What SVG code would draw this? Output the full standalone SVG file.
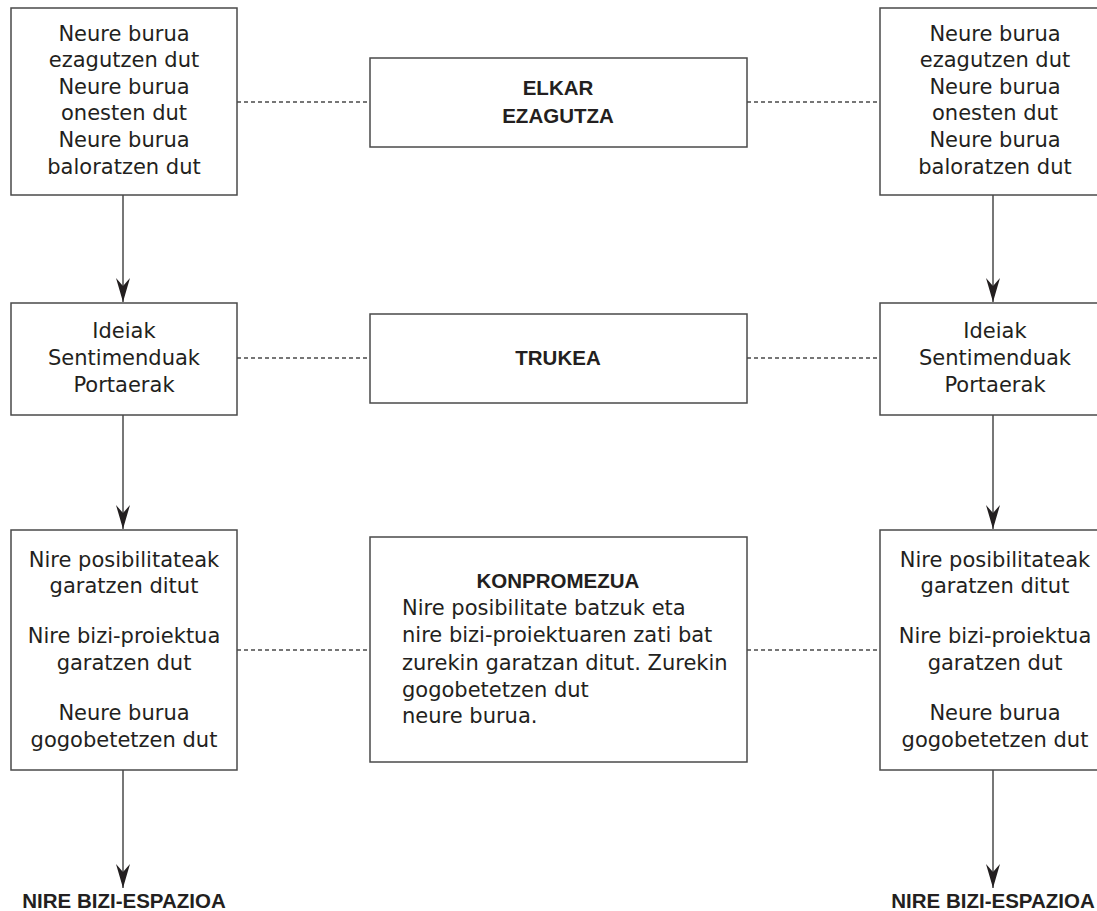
<svg xmlns="http://www.w3.org/2000/svg" width="1097" height="911" viewBox="0 0 1097 911">
<style>
.box{fill:#fff;stroke:#4a4a4a;stroke-width:1.5}
.t{font-family:"DejaVu Sans","Liberation Sans",sans-serif;font-size:21px;fill:#231f20;text-anchor:middle}
.b{font-family:"Liberation Sans","DejaVu Sans",sans-serif;font-size:20.5px;font-weight:bold;fill:#231f20;text-anchor:middle}
.l{text-anchor:start}
.dash{stroke:#4a4a4a;stroke-width:1.3;stroke-dasharray:4 3;fill:none}
.arr{stroke:#4a4a4a;stroke-width:1.5;fill:none;marker-end:url(#ah)}
</style>
<defs>
<marker id="ah" markerUnits="userSpaceOnUse" markerWidth="26" markerHeight="16" viewBox="-25 -8 26 16" refX="0" refY="0" orient="auto">
<path d="M0,0 L-24,-7 L-16,0 L-24,7 Z" fill="#231f20"/>
</marker>
</defs>
<g id="connectors">
<line class="dash" x1="237" y1="102" x2="370" y2="102"/>
<line class="dash" x1="747" y1="102" x2="880" y2="102"/>
<line class="dash" x1="237" y1="358" x2="370" y2="358"/>
<line class="dash" x1="747" y1="358" x2="880" y2="358"/>
<line class="dash" x1="237" y1="650" x2="370" y2="650"/>
<line class="dash" x1="747" y1="650" x2="880" y2="650"/>
<line class="arr" x1="123" y1="195" x2="123" y2="302"/>
<line class="arr" x1="123" y1="415" x2="123" y2="529"/>
<line class="arr" x1="123" y1="770" x2="123" y2="888"/>
<line class="arr" x1="993" y1="195" x2="993" y2="302"/>
<line class="arr" x1="993" y1="415" x2="993" y2="529"/>
<line class="arr" x1="993" y1="770" x2="993" y2="888"/>
</g>
<g id="left1">
<rect class="box" x="11" y="8" width="226" height="187"/>
<text class="t" x="124" y="41">Neure burua</text>
<text class="t" x="124" y="67">ezagutzen dut</text>
<text class="t" x="124" y="94">Neure burua</text>
<text class="t" x="124" y="120">onesten dut</text>
<text class="t" x="124" y="147">Neure burua</text>
<text class="t" x="124" y="174">baloratzen dut</text>
</g>
<g id="center1">
<rect class="box" x="370" y="58" width="377" height="89"/>
<text class="b" x="558" y="95">ELKAR</text>
<text class="b" x="558" y="123">EZAGUTZA</text>
</g>
<g id="right1">
<rect class="box" x="880" y="8" width="230" height="187"/>
<text class="t" x="995" y="41">Neure burua</text>
<text class="t" x="995" y="67">ezagutzen dut</text>
<text class="t" x="995" y="94">Neure burua</text>
<text class="t" x="995" y="120">onesten dut</text>
<text class="t" x="995" y="147">Neure burua</text>
<text class="t" x="995" y="174">baloratzen dut</text>
</g>
<g id="left2">
<rect class="box" x="11" y="303" width="226" height="112"/>
<text class="t" x="124" y="338">Ideiak</text>
<text class="t" x="124" y="365">Sentimenduak</text>
<text class="t" x="124" y="392">Portaerak</text>
</g>
<g id="center2">
<rect class="box" x="370" y="314" width="377" height="89"/>
<text class="b" x="558" y="365">TRUKEA</text>
</g>
<g id="right2">
<rect class="box" x="880" y="303" width="230" height="112"/>
<text class="t" x="995" y="338">Ideiak</text>
<text class="t" x="995" y="365">Sentimenduak</text>
<text class="t" x="995" y="392">Portaerak</text>
</g>
<g id="left3">
<rect class="box" x="11" y="530" width="226" height="240"/>
<text class="t" x="124" y="567">Nire posibilitateak</text>
<text class="t" x="124" y="593">garatzen ditut</text>
<text class="t" x="124" y="643">Nire bizi-proiektua</text>
<text class="t" x="124" y="670">garatzen dut</text>
<text class="t" x="124" y="720">Neure burua</text>
<text class="t" x="124" y="747">gogobetetzen dut</text>
</g>
<g id="center3">
<rect class="box" x="370" y="537" width="377" height="225"/>
<text class="b" x="558" y="588">KONPROMEZUA</text>
<text class="t l" x="402" y="615">Nire posibilitate batzuk eta</text>
<text class="t l" x="402" y="642">nire bizi-proiektuaren zati bat</text>
<text class="t l" x="402" y="670">zurekin garatzan ditut. Zurekin</text>
<text class="t l" x="402" y="697">gogobetetzen dut</text>
<text class="t l" x="402" y="723">neure burua.</text>
</g>
<g id="right3">
<rect class="box" x="880" y="530" width="230" height="240"/>
<text class="t" x="995" y="567">Nire posibilitateak</text>
<text class="t" x="995" y="593">garatzen ditut</text>
<text class="t" x="995" y="643">Nire bizi-proiektua</text>
<text class="t" x="995" y="670">garatzen dut</text>
<text class="t" x="995" y="720">Neure burua</text>
<text class="t" x="995" y="747">gogobetetzen dut</text>
</g>
<g id="end-left">
<text class="b" x="124" y="908">NIRE BIZI-ESPAZIOA</text>
</g>
<g id="end-right">
<text class="b" x="993" y="908">NIRE BIZI-ESPAZIOA</text>
</g>
</svg>
